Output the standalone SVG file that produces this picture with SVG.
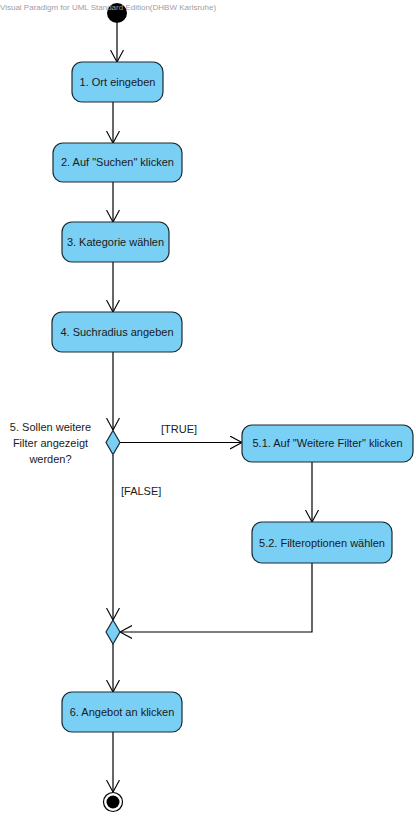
<svg xmlns="http://www.w3.org/2000/svg" width="416" height="816" viewBox="0 0 416 816">
<style>
.act rect{fill:#7acff5;stroke:#1a2a33;stroke-width:1.2}
.act text{font-family:"Liberation Sans",Arial,sans-serif;font-size:11px;fill:#1a1a1a;text-anchor:middle}
.lbl{font-family:"Liberation Sans",Arial,sans-serif;font-size:11px;fill:#1a1a1a}
.dec{fill:#7acff5;stroke:#1a2a33;stroke-width:1.2}
#connectors path{fill:none;stroke:#000;stroke-width:1.2;marker-end:url(#arr)}
.wm{font-family:"Liberation Sans",Arial,sans-serif;font-size:8px;fill:#a0a0a0}
</style>
<defs>
<marker id="arr" markerUnits="userSpaceOnUse" markerWidth="14" markerHeight="14" refX="12" refY="7" orient="auto">
<path d="M0,0.5 L12,7 L0,13.5" fill="none" stroke="#000" stroke-width="1.1"/>
</marker>
</defs>
<rect width="416" height="816" fill="#fff"/>
<g id="connectors">
<path d="M117,23 V62"/>
<path d="M113,102 V143"/>
<path d="M113,182 V222"/>
<path d="M113,262 V312"/>
<path d="M113,352 V430"/>
<path d="M120,442.5 H242"/>
<path d="M312,462 V522"/>
<path d="M312,563 V632 H120"/>
<path d="M113,455 V620"/>
<path d="M113,644 V692"/>
<path d="M113,732 V792"/>
</g>
<g id="start"><circle cx="117" cy="13" r="10" fill="#000"/></g>
<g id="n1" class="act"><rect x="72" y="62" width="91" height="40" rx="10"/><text x="117.5" y="86">1. Ort eingeben</text></g>
<g id="n2" class="act"><rect x="53" y="143" width="129" height="39" rx="10"/><text x="117.5" y="166">2. Auf "Suchen" klicken</text></g>
<g id="n3" class="act"><rect x="62" y="222" width="107" height="40" rx="10"/><text x="115.5" y="246">3. Kategorie wählen</text></g>
<g id="n4" class="act"><rect x="52" y="312" width="130" height="40" rx="10"/><text x="117" y="336">4. Suchradius angeben</text></g>
<g id="d1"><path class="dec" d="M113,430.5 L120,442.5 L113,454.5 L106,442.5 Z"/>
<text class="lbl" x="50.5" y="431" text-anchor="middle">5. Sollen weitere</text>
<text class="lbl" x="50.5" y="447" text-anchor="middle">Filter angezeigt</text>
<text class="lbl" x="50.5" y="463" text-anchor="middle">werden?</text></g>
<text class="lbl" x="161" y="433">[TRUE]</text>
<text class="lbl" x="121" y="495">[FALSE]</text>
<g id="n51" class="act"><rect x="242" y="425" width="171" height="37" rx="10"/><text x="327.5" y="447">5.1. Auf "Weitere Filter" klicken</text></g>
<g id="n52" class="act"><rect x="252" y="522" width="140" height="41" rx="10"/><text x="322" y="546.5">5.2. Filteroptionen wählen</text></g>
<g id="d2"><path class="dec" d="M113,620 L120,632 L113,644 L106,632 Z"/></g>
<g id="n6" class="act"><rect x="62" y="692" width="120" height="40" rx="10"/><text x="122" y="716">6. Angebot an klicken</text></g>
<g id="end"><circle cx="113" cy="802" r="9.5" fill="#fff" stroke="#000" stroke-width="1.2"/><circle cx="113" cy="802" r="6.5" fill="#000"/></g>
<text class="wm" x="0" y="10">Visual Paradigm for UML Standard Edition(DHBW Karlsruhe)</text>
</svg>
